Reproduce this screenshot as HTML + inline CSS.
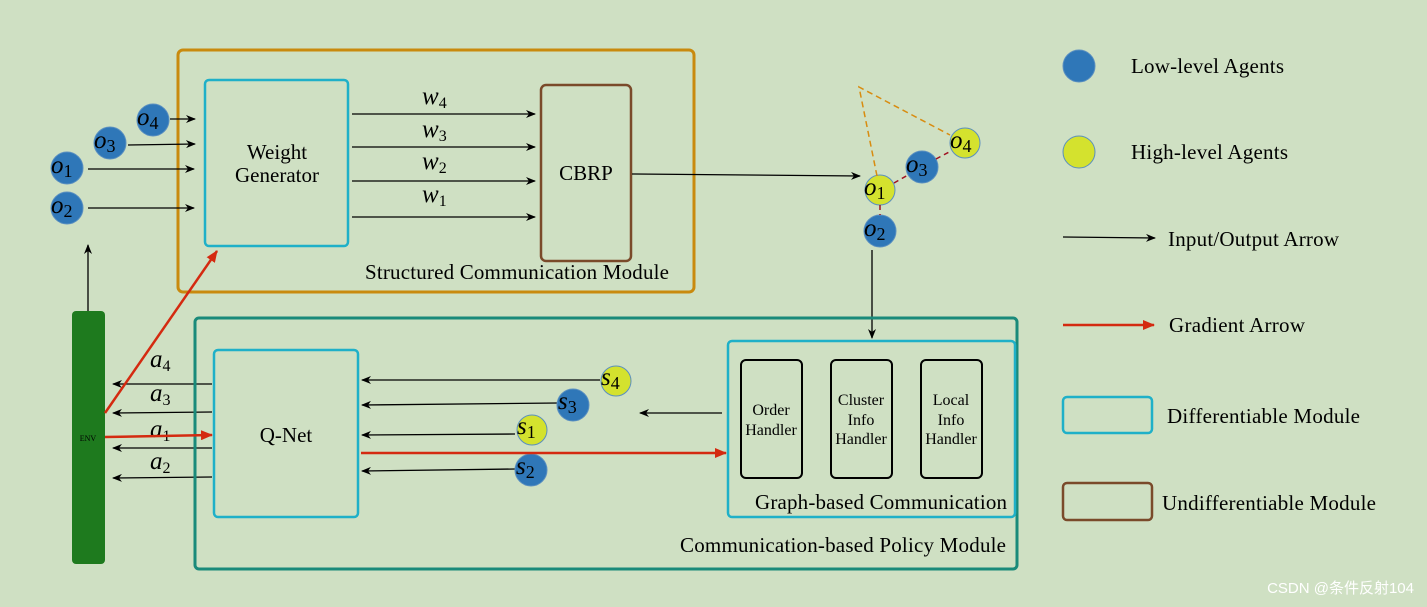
<!DOCTYPE html>
<html><head><meta charset="utf-8"><style>
body{margin:0;background:#cfe0c3;}
svg{display:block;font-family:"Liberation Serif",serif;}
.m{font-family:"Liberation Serif",serif;font-style:italic;font-size:25px;}
.s{font-size:16px;}
</style></head><body>
<svg width="1427" height="607" viewBox="0 0 1427 607">
<defs>
<marker id="ak" markerWidth="10" markerHeight="8" refX="9" refY="4" orient="auto" markerUnits="userSpaceOnUse"><path d="M0,0 L10,4 L0,8 L3,4z" fill="#000"/></marker>
<marker id="ar" markerWidth="12" markerHeight="10" refX="11" refY="5" orient="auto" markerUnits="userSpaceOnUse"><path d="M0,0 L12,5 L0,10z" fill="#d42a10"/></marker>
</defs>
<rect width="1427" height="607" fill="#cfe0c3"/>
<rect x="178" y="50" width="516" height="242" rx="5" fill="none" stroke="#c98a0e" stroke-width="3"/>
<rect x="205" y="80" width="143" height="166" rx="4" fill="none" stroke="#1fb0c8" stroke-width="2.5"/>
<text x="277" y="159" font-size="21" text-anchor="middle">Weight</text>
<text x="277" y="182" font-size="21" text-anchor="middle">Generator</text>
<rect x="541" y="85" width="90" height="176" rx="5" fill="none" stroke="#7a4a2a" stroke-width="2.5"/>
<text x="586" y="180" font-size="21" text-anchor="middle">CBRP</text>
<text x="517" y="279" font-size="21" text-anchor="middle" textLength="304">Structured Communication Module</text>
<g stroke="#000" stroke-width="1.3" marker-end="url(#ak)">
<line x1="352" y1="114" x2="535" y2="114"/><line x1="352" y1="147" x2="535" y2="147"/>
<line x1="352" y1="181" x2="535" y2="181"/><line x1="352" y1="217" x2="535" y2="217"/>
<line x1="170" y1="119" x2="195" y2="119"/><line x1="128" y1="145" x2="195" y2="144"/>
<line x1="88" y1="169" x2="194" y2="169"/><line x1="88" y1="208" x2="194" y2="208"/>
<line x1="632" y1="174" x2="860" y2="176"/>
<line x1="872" y1="250" x2="872" y2="338"/>
<line x1="88" y1="311" x2="88" y2="245"/>
<line x1="212" y1="384" x2="113" y2="384"/><line x1="212" y1="412" x2="113" y2="413"/>
<line x1="212" y1="448" x2="113" y2="448"/><line x1="212" y1="477" x2="113" y2="478"/>
<line x1="600" y1="380" x2="362" y2="380"/><line x1="558" y1="403" x2="362" y2="405"/>
<line x1="515" y1="434" x2="362" y2="435"/><line x1="515" y1="469" x2="362" y2="471"/>
<line x1="722" y1="413" x2="640" y2="413"/>
<line x1="1063" y1="237" x2="1155" y2="238"/>
</g>
<g class="m">
<text x="422" y="104">w<tspan font-size="16" font-style="normal" dy="4">4</tspan></text>
<text x="422" y="137">w<tspan font-size="16" font-style="normal" dy="4">3</tspan></text>
<text x="422" y="169">w<tspan font-size="16" font-style="normal" dy="4">2</tspan></text>
<text x="422" y="202">w<tspan font-size="16" font-style="normal" dy="4">1</tspan></text>
<text x="150" y="367">a<tspan font-size="16" font-style="normal" dy="4">4</tspan></text>
<text x="150" y="401">a<tspan font-size="16" font-style="normal" dy="4">3</tspan></text>
<text x="150" y="437">a<tspan font-size="16" font-style="normal" dy="4">1</tspan></text>
<text x="150" y="469">a<tspan font-size="16" font-style="normal" dy="4">2</tspan></text>
</g>
<g stroke="#5a8fc0" stroke-width="1">
<circle cx="153" cy="120" r="16" fill="#2f77b8"/><circle cx="110" cy="143" r="16" fill="#2f77b8"/>
<circle cx="67" cy="168" r="16" fill="#2f77b8"/><circle cx="67" cy="208" r="16" fill="#2f77b8"/>
<circle cx="880" cy="231" r="16" fill="#2f77b8"/><circle cx="922" cy="167" r="16" fill="#2f77b8"/>
<circle cx="880" cy="190" r="15" fill="#d4e22e"/><circle cx="965" cy="143" r="15" fill="#d4e22e"/>
<circle cx="616" cy="381" r="15" fill="#d4e22e"/><circle cx="573" cy="405" r="16" fill="#2f77b8"/>
<circle cx="532" cy="430" r="15" fill="#d4e22e"/><circle cx="531" cy="470" r="16" fill="#2f77b8"/>
<circle cx="1079" cy="66" r="16" fill="#2f77b8"/><circle cx="1079" cy="152" r="16" fill="#d4e22e"/>
</g>
<g class="m">
<text x="137" y="125">o<tspan font-size="18" font-style="normal" dy="4">4</tspan></text>
<text x="94" y="148">o<tspan font-size="18" font-style="normal" dy="4">3</tspan></text>
<text x="51" y="173">o<tspan font-size="18" font-style="normal" dy="4">1</tspan></text>
<text x="51" y="213">o<tspan font-size="18" font-style="normal" dy="4">2</tspan></text>
<text x="864" y="236">o<tspan font-size="18" font-style="normal" dy="4">2</tspan></text>
<text x="906" y="172">o<tspan font-size="18" font-style="normal" dy="4">3</tspan></text>
<text x="864" y="195">o<tspan font-size="18" font-style="normal" dy="4">1</tspan></text>
<text x="950" y="148">o<tspan font-size="18" font-style="normal" dy="4">4</tspan></text>
<text x="601" y="385">s<tspan font-size="18" font-style="normal" dy="4">4</tspan></text>
<text x="558" y="409">s<tspan font-size="18" font-style="normal" dy="4">3</tspan></text>
<text x="517" y="434">s<tspan font-size="18" font-style="normal" dy="4">1</tspan></text>
<text x="516" y="474">s<tspan font-size="18" font-style="normal" dy="4">2</tspan></text>
</g>
<path d="M877,176 L859,87 L950,135" fill="none" stroke="#d88c10" stroke-width="1.5" stroke-dasharray="6,4"/>
<g stroke="#a01020" stroke-width="1.5" stroke-dasharray="5,4">
<line x1="894" y1="183" x2="908" y2="175"/><line x1="936" y1="159" x2="951" y2="151"/>
<line x1="880" y1="205" x2="880" y2="215"/></g>
<rect x="195" y="318" width="822" height="251" rx="4" fill="none" stroke="#1a8a7a" stroke-width="3"/>
<rect x="214" y="350" width="144" height="167" rx="4" fill="none" stroke="#1fb0c8" stroke-width="2.5"/>
<text x="286" y="442" font-size="21" text-anchor="middle">Q-Net</text>
<rect x="728" y="341" width="287" height="176" rx="4" fill="none" stroke="#1fb0c8" stroke-width="2.5"/>
<rect x="741" y="360" width="61" height="118" rx="5" fill="none" stroke="#000" stroke-width="2"/>
<rect x="831" y="360" width="61" height="118" rx="5" fill="none" stroke="#000" stroke-width="2"/>
<rect x="921" y="360" width="61" height="118" rx="5" fill="none" stroke="#000" stroke-width="2"/>
<g class="s" text-anchor="middle">
<text x="771" y="415">Order</text><text x="771" y="435">Handler</text>
<text x="861" y="405">Cluster</text><text x="861" y="425">Info</text><text x="861" y="444">Handler</text>
<text x="951" y="405">Local</text><text x="951" y="425">Info</text><text x="951" y="444">Handler</text>
</g>
<text x="881" y="509" font-size="21" text-anchor="middle" textLength="252">Graph-based Communication</text>
<text x="843" y="552" font-size="21" text-anchor="middle" textLength="326">Communication-based Policy Module</text>
<rect x="72" y="311" width="33" height="253" rx="4" fill="#1e7a1e"/>
<text x="88" y="441" font-size="8" text-anchor="middle">ENV</text>
<g stroke="#d42a10" stroke-width="2.5" marker-end="url(#ar)">
<line x1="105" y1="437" x2="212" y2="435"/>
<line x1="105" y1="413" x2="217" y2="251"/>
<line x1="361" y1="453" x2="726" y2="453"/>
<line x1="1063" y1="325" x2="1154" y2="325"/>
</g>
<rect x="1063" y="397" width="89" height="36" rx="4" fill="none" stroke="#1fb0c8" stroke-width="2.5"/>
<rect x="1063" y="483" width="89" height="37" rx="4" fill="none" stroke="#7a4a2a" stroke-width="2.5"/>
<g font-size="21">
<text x="1131" y="73" textLength="153">Low-level Agents</text>
<text x="1131" y="159" textLength="157">High-level Agents</text>
<text x="1168" y="246" textLength="171">Input/Output Arrow</text>
<text x="1169" y="332" textLength="136">Gradient Arrow</text>
<text x="1167" y="423" textLength="193">Differentiable Module</text>
<text x="1162" y="510" textLength="214">Undifferentiable Module</text>
</g>
<text x="1414" y="593" font-family="Liberation Sans,Noto Sans CJK SC,sans-serif" font-size="15" fill="#fff" text-anchor="end">CSDN @条件反射104</text>
</svg>
</body></html>
